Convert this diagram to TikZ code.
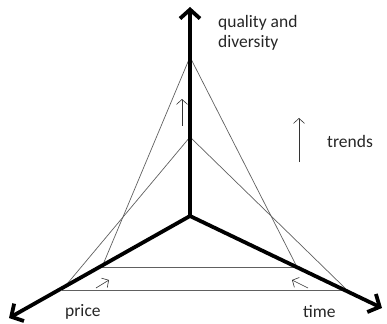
\documentclass[tikz,border=0pt]{standalone}
\usepackage{fontspec}
\setmainfont{Carlito}
\usetikzlibrary{arrows.meta}

\tikzset{
  axis/.style={line width=3.8pt, -{Straight Barb[length=9pt, width=20pt]}},
  edge/.style={gray!75!black, line width=0.7pt},
  trend/.style={black!80, line width=0.6pt, -{Straight Barb[length=5pt, width=11pt]}},
  label/.style={font=\fontsize{17.5}{20}\selectfont, text=black!85, inner sep=0pt}
}

\begin{document}
\begin{tikzpicture}[x=1pt, y=-1pt]
        \useasboundingbox (0,0) rectangle (387,323);

        % Centre and axis ends
        \coordinate (O) at (190,216);
        \coordinate (Q) at (190,7);
        \coordinate (P) at (9,318);
        \coordinate (T) at (382,308);

        % Outer (old) and inner (new) vertices
        \coordinate (q1) at (190,57);
        \coordinate (p1) at (102,267);
        \coordinate (t1) at (297,267);
        \coordinate (q2) at (190,137);
        \coordinate (p2) at (62,290);
        \coordinate (t2) at (347,290);

        % Triangles
        \draw[edge] (p1) -- (q1) -- (t1);
        \draw[edge] (p1) -- (t1);
        \draw[edge] (p2) -- (q2) -- (t2);
        \draw[edge] (p2) -- (t2);

        % Axes
        \draw[axis] (O) -- (Q);
        \draw[axis] (O) -- (P);
        \draw[axis] (O) -- (T);

        % Trend arrows
        \coordinate (a1) at (182,126);
        \coordinate (b1) at (182,99);
        \draw[trend] (a1) -- (b1);
        \coordinate (a2) at (96,288);
        \coordinate (b2) at (109,280);
        \draw[trend] (a2) -- (b2);
        \coordinate (a3) at (308,288);
        \coordinate (b3) at (292,280);
        \draw[trend] (a3) -- (b3);
        \coordinate (a4) at (299,162);
        \coordinate (b4) at (299,118);
        \draw[trend] (a4) -- (b4);

        % Labels
        \node[label, align=left, anchor=north west] (quality) at (218,15) {quality and\\diversity};
        \node[label, anchor=base west] (trends) at (327,147) {trends};
        \node[label, anchor=base west] (price) at (65,316) {price};
        \node[label, anchor=base west] (time) at (303,317) {time};
\end{tikzpicture}
\end{document}
